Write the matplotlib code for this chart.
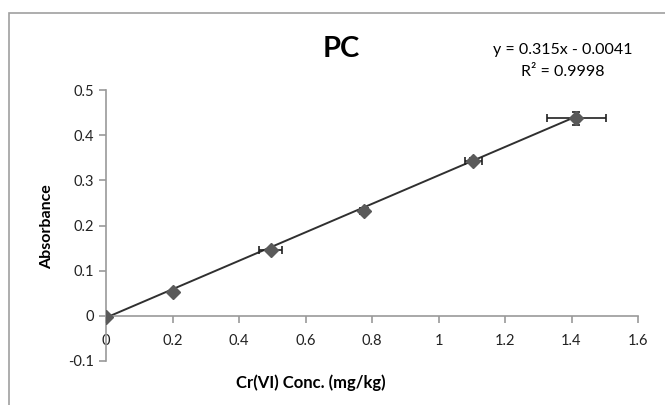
import numpy as np
import matplotlib.pyplot as plt
from matplotlib.patches import Rectangle

plt.rcParams['font.family'] = ['Lato', 'DejaVu Sans']

# dane
conc = [0.0, 0.2, 0.495, 0.775, 1.105, 1.415]
absorb = [-0.002, 0.053, 0.145, 0.233, 0.343, 0.437]
xerr = [0.0, 0.0, 0.035, 0.012, 0.025, 0.09]
yerr = [0.0, 0.0, 0.006, 0.006, 0.006, 0.015]
slope = 0.315
intercept = -0.0041
xticks = [0, 0.2, 0.4, 0.6, 0.8, 1, 1.2, 1.4, 1.6]
xlabels = ['0', '0.2', '0.4', '0.6', '0.8', '1', '1.2', '1.4', '1.6']
yticks = [-0.1, 0, 0.1, 0.2, 0.3, 0.4, 0.5]
ylabels = ['-0.1', '0', '0.1', '0.2', '0.3', '0.4', '0.5']

fig = plt.figure(figsize=(6.65, 4.05), dpi=100)
ax = fig.add_axes([106/665, 1-361/405, 532/665, 271/405])

# ramka wykresu
fig.patches.append(Rectangle((9/665, -0.05), 1.0, 1-13/405+0.05, transform=fig.transFigure,
                             fill=False, edgecolor='#a0a0a0', linewidth=1.2))

# linia trendu
xt = np.array([0, conc[-1]])
ax.plot(xt, slope*xt + intercept, color='#303030', linewidth=1.4, zorder=2)

ax.errorbar(conc, absorb, xerr=xerr, yerr=yerr, fmt='none', ecolor='#202020',
            elinewidth=1.2, capsize=3, capthick=1.2, zorder=3)
ax.plot(conc, absorb, linestyle='none', marker='D', markersize=7.5,
        color='#5a5a5a', zorder=4)

ax.set_xlim(0, 1.6)
ax.set_ylim(-0.1, 0.5)
ax.spines['top'].set_visible(False)
ax.spines['right'].set_visible(False)
ax.spines['bottom'].set_position(('data', 0))
for s in ['left', 'bottom']:
    ax.spines[s].set_color('#999999')
    ax.spines[s].set_linewidth(1.2)

ax.set_xticks(xticks)
ax.set_xticklabels(xlabels)
ax.set_yticks(yticks)
ax.set_yticklabels(ylabels)
ax.tick_params(axis='both', colors='#999999', labelcolor='#222222', labelsize=10.5,
               length=5, width=1.2, direction='out')
ax.tick_params(axis='x', pad=8)

fig.text(341/665, 1-49/405, 'PC', ha='center', va='center', fontsize=21, fontweight='bold')
fig.text(563/665, 1-50/405, 'y = 0.315x - 0.0041', ha='center', va='center', fontsize=11.5)
fig.text(563/665, 1-72/405, 'R² = 0.9998', ha='center', va='center', fontsize=11.5)
fig.text(311/665, 1-383/405, 'Cr(VI) Conc. (mg/kg)', ha='center', va='center',
         fontsize=12, fontweight='bold')
fig.text(47/665, 1-227/405, 'Absorbance', ha='center', va='center', rotation=90,
         fontsize=11.5, fontweight='bold')

plt.savefig('out.png', dpi=100)
